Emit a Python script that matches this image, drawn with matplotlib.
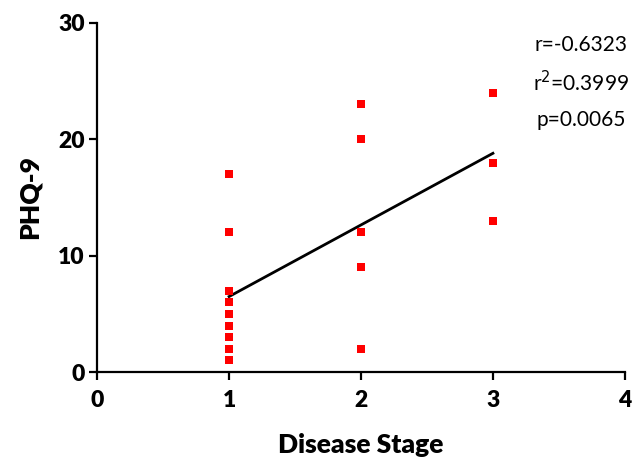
import matplotlib

matplotlib.use("Agg")
import matplotlib.pyplot as plt
import numpy as np

# disease stage vs PHQ-9 scores
stage = [1, 1, 1, 1, 1, 1, 1, 1, 1, 2, 2, 2, 2, 2, 3, 3, 3]
phq9 = [17, 12, 7, 6, 5, 4, 3, 2, 1, 23, 20, 12, 9, 2, 24, 18, 13]
stats_text = ["r=-0.6323", "r$^2$=0.3999", "p=0.0065"]
x_ticks = [0, 1, 2, 3, 4]
y_ticks = [0, 10, 20, 30]

FONT = ["Lato", "DejaVu Sans"]

fig = plt.figure(figsize=(6.35, 4.68), dpi=100)
ax = fig.add_axes([0.153, 0.205, 0.831, 0.746])

ax.plot(stage, phq9, "s", color="#ff0000", ms=5.2, mew=0, zorder=3, clip_on=False)

slope, icept = np.polyfit(stage, phq9, 1)
xf = np.array([min(stage), max(stage)])
ax.plot(xf, slope * xf + icept, color="black", lw=2.0, zorder=2)

ax.set_xlim(0, 4)
ax.set_ylim(0, 30)
ax.set_xticks(x_ticks)
ax.set_yticks(y_ticks)

for s in ["top", "right"]:
    ax.spines[s].set_visible(False)
for s in ["left", "bottom"]:
    ax.spines[s].set_linewidth(1.6)
ax.tick_params(width=1.6, length=6, direction="out")
ax.tick_params(axis="x", pad=7)
ax.tick_params(axis="y", pad=3)
for lab in ax.get_xticklabels() + ax.get_yticklabels():
    lab.set_fontfamily(FONT)
    lab.set_fontweight("heavy")
    lab.set_fontsize(16.5)

ax.set_xlabel("Disease Stage", fontsize=19, fontweight="heavy", family=FONT, labelpad=16)
ax.set_ylabel("PHQ-9", fontsize=19, fontweight="heavy", family=FONT, labelpad=12)

for i, t in enumerate(stats_text):
    fig.text(0.915, 0.904 - i * 0.080, t, ha="center", va="center", fontsize=15, family=FONT)

fig.savefig("out.png", dpi=100, facecolor="white")
